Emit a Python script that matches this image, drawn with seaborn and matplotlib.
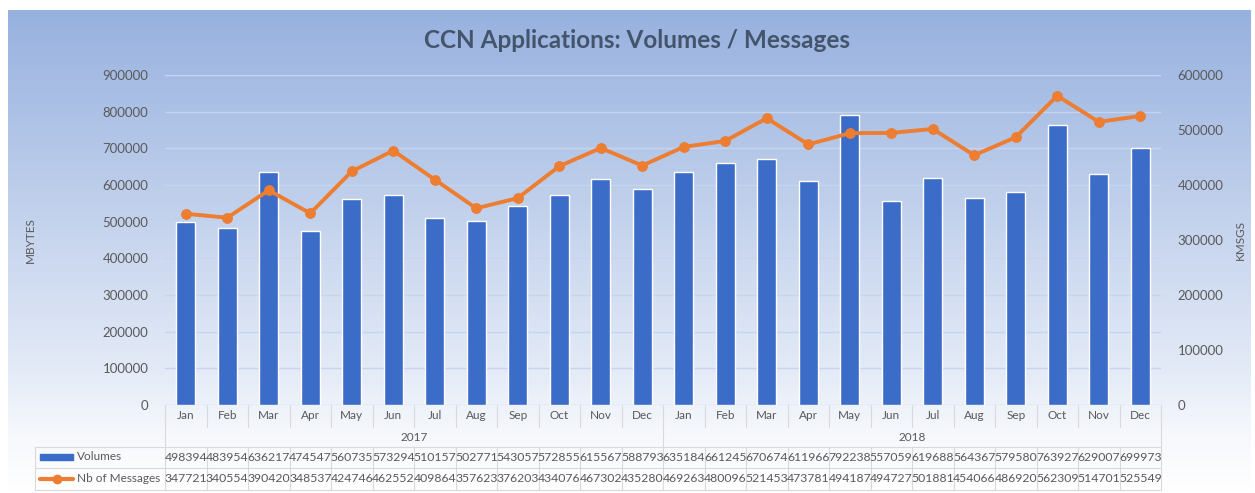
import numpy as np
import pandas as pd
import matplotlib.pyplot as plt
import seaborn as sns
from matplotlib.colors import LinearSegmentedColormap
from matplotlib.patches import Rectangle
from matplotlib.lines import Line2D

months = ["Jan", "Feb", "Mar", "Apr", "May", "Jun", "Jul", "Aug", "Sep", "Oct", "Nov", "Dec"]
years = ["2017", "2018"]
volumes = [498394, 483954, 636217, 474547, 560735, 573294, 510157, 502771, 543057, 572855, 615567, 588793,
           635184, 661245, 670674, 611966, 792238, 557059, 619688, 564367, 579580, 763927, 629007, 699973]
messages = [347721, 340554, 390420, 348537, 424746, 462552, 409864, 357623, 376203, 434076, 467302, 435280,
            469263, 480096, 521453, 473781, 494187, 494727, 501881, 454066, 486920, 562309, 514701, 525549]

df = pd.DataFrame({
    "slot": range(24),
    "month": months * 2,
    "year": [y for y in years for _ in months],
    "Volumes": volumes,
    "Nb of Messages": messages,
})

sns.set_style("white")
plt.rcParams["font.family"] = ["Lato", "DejaVu Sans"]
grey = "#595959"
blue = "#3b6cc7"
orange = "#ed7d31"
gridc = "#d9d9d9"

fig = plt.figure(figsize=(12.55, 4.93), dpi=100)

# background gradient
bg = fig.add_axes([8 / 1255, 0, 1 - 12 / 1255, 1 - 10 / 493], zorder=-10)
cmap = LinearSegmentedColormap.from_list("bg", [(0, "#ffffff"), (0.12, "#f6f8fc"), (0.25, "#e4ebf7"),
                                                (1, "#97b1df")])
bg.imshow(np.linspace(0, 1, 256).reshape(-1, 1), aspect="auto", cmap=cmap, origin="lower",
          extent=[0, 1, 0, 1])
bg.axis("off")

ax = fig.add_axes([165 / 1255, 1 - 405 / 493, 996 / 1255, 330 / 493])
ax.patch.set_alpha(0)
sns.barplot(data=df, x="slot", y="Volumes", color=blue, width=0.45, saturation=1, ax=ax, zorder=3)
ax.set_ylim(0, 900000)
ax.set_yticks(range(0, 900001, 100000))
ax.set_xlim(-0.5, 23.5)
ax.grid(axis="y", color="#c6d5ef", lw=1, zorder=0)
ax.set_axisbelow(True)
ax.set_xticks([])
ax.set_xlabel("")
ax.set_ylabel("MBYTES", color=grey, fontsize=8.5, labelpad=48)
ax.tick_params(axis="y", length=0, labelsize=9.5, labelcolor=grey, pad=12)

ax2 = ax.twinx()
sns.lineplot(data=df, x="slot", y="Nb of Messages", color=orange, lw=2.8, marker="o", ms=7,
             markeredgecolor=orange, ax=ax2, zorder=4)
ax2.set_ylim(0, 600000)
ax2.set_yticks(range(0, 600001, 100000))
ax2.set_xlim(-0.5, 23.5)
ax2.set_ylabel("KMSGS", color=grey, fontsize=8.5, labelpad=8)
ax2.tick_params(axis="y", length=0, labelsize=9.5, labelcolor=grey, pad=12)
for a in (ax, ax2):
    for s in a.spines.values():
        s.set_visible(False)

fig.text(637 / 1255, 1 - 41 / 493, "CCN Applications: Volumes / Messages", ha="center", va="center",
         fontsize=17.5, fontweight="bold", color="#44546a")

# data table below the plot
tr = ax.get_xaxis_transform()
y_month, y_year, y_vol, y_msg = -0.033, -0.097, -0.158, -0.224
l_month, l_top, l_mid, l_bot = -0.0667, -0.127, -0.191, -0.258
for i, row in df.iterrows():
    ax.text(row["slot"], y_month, row["month"], transform=tr, ha="center", va="center",
            fontsize=8.5, color=grey)
    ax.text(row["slot"], y_vol, str(row["Volumes"]), transform=tr, ha="center", va="center",
            fontsize=8.8, color=grey)
    ax.text(row["slot"], y_msg, str(row["Nb of Messages"]), transform=tr, ha="center", va="center",
            fontsize=8.8, color=grey)
for k, y in enumerate(years):
    ax.text(5.5 + 12 * k, y_year, y, transform=tr, ha="center", va="center", fontsize=8.5, color=grey)

for x in np.arange(-0.5, 24, 1):
    if x in (-0.5, 11.5, 23.5):
        ax.plot([x, x], [0, l_bot], transform=tr, color=gridc, lw=0.8, clip_on=False)
    else:
        ax.plot([x, x], [0, l_month], transform=tr, color=gridc, lw=0.8, clip_on=False)
        ax.plot([x, x], [l_top, l_bot], transform=tr, color=gridc, lw=0.8, clip_on=False)

x_left = 35 / 1255
x_right = 1161 / 1255
for py in (447, 468, 490):
    fy = 1 - py / 493
    fig.add_artist(Line2D([x_left, x_right], [fy, fy], color=gridc, lw=0.8))
fig.add_artist(Line2D([x_left, x_left], [1 - 447 / 493, 1 - 490 / 493], color=gridc, lw=0.8))

fig.add_artist(Rectangle((40 / 1255, 1 - 460 / 493), 33 / 1255, 6 / 493, color=blue))
fig.add_artist(Line2D([40 / 1255, 73 / 1255], [1 - 479 / 493] * 2, color=orange, lw=3))
fig.add_artist(Line2D([56.5 / 1255], [1 - 479 / 493], color=orange, marker="o", ms=6))
fig.text(77 / 1255, 1 - 457 / 493, "Volumes", va="center", fontsize=8.5, color=grey)
fig.text(77 / 1255, 1 - 479 / 493, "Nb of Messages", va="center", fontsize=8.5, color=grey)

fig.savefig("out.png", dpi=100)
